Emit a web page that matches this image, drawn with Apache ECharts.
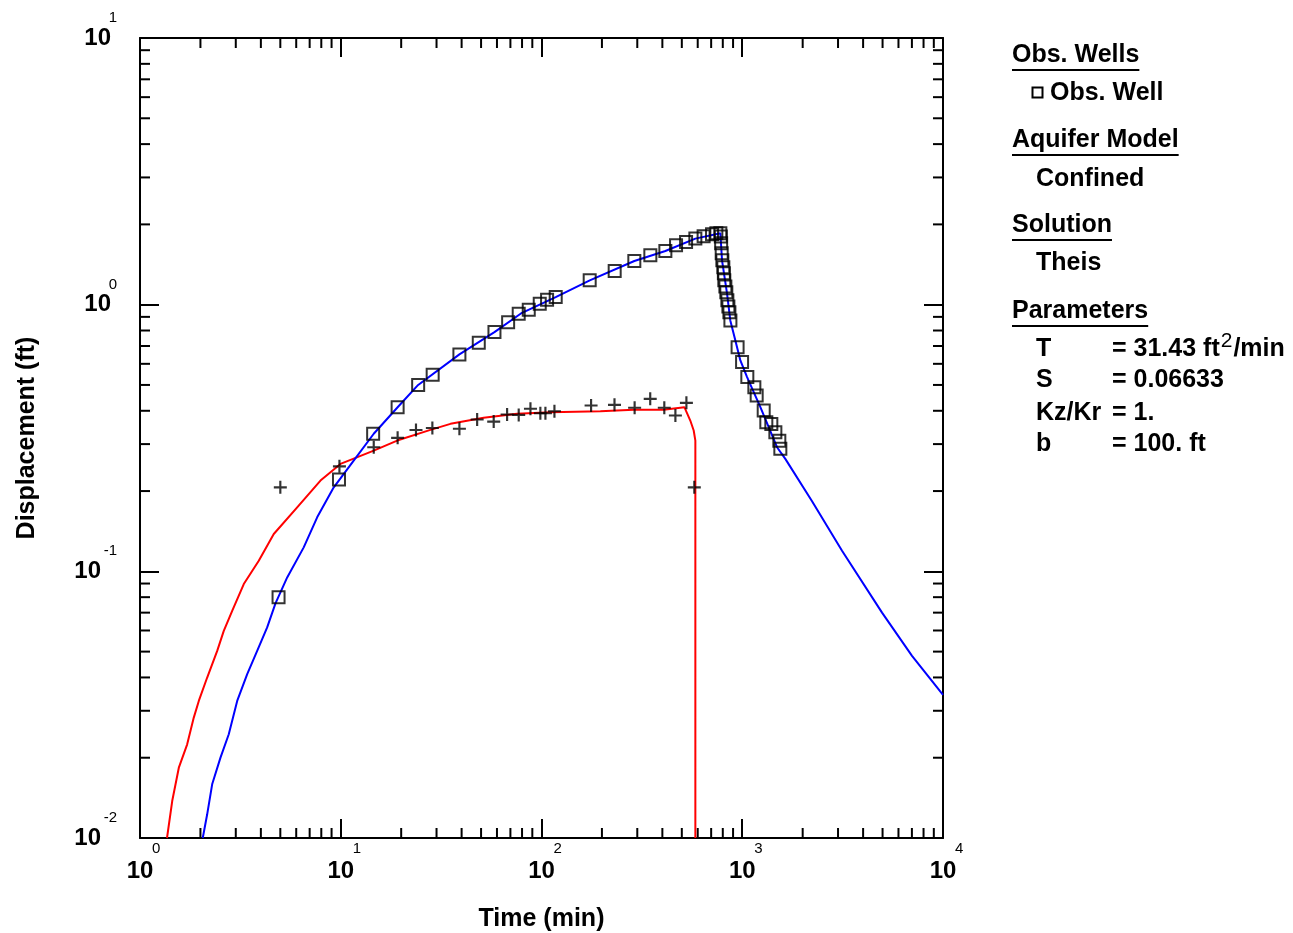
<!DOCTYPE html>
<html><head><meta charset="utf-8">
<script src="https://cdn.jsdelivr.net/npm/echarts@6/dist/echarts.min.js"></script>
<style>html,body{margin:0;padding:0;background:#fff}#c{width:1293px;height:933px}</style>
</head><body><div id="c"></div>
<script>
// ---- data ----
const obsTime = [4.9, 9.8, 14.5, 19.2, 24.3, 28.7, 39.0, 48.7, 58.3, 68.2, 77.0, 86.4, 98, 106.6, 117.7, 173.8, 231.5, 290, 348.5, 414, 468, 525, 584, 642, 707, 743, 778,
  782, 785, 790, 796, 805, 810, 814, 824, 833, 843, 853, 863, 873,
  948, 998, 1060, 1149, 1180, 1279, 1318, 1396, 1462, 1530, 1548];
const obsDisp = [0.080, 0.221, 0.328, 0.412, 0.500, 0.546, 0.651, 0.720, 0.789, 0.860, 0.925, 0.958, 1.009, 1.044, 1.068, 1.234, 1.337, 1.458, 1.531, 1.590, 1.670, 1.718, 1.769, 1.805, 1.836, 1.852, 1.852,
  1.80, 1.70, 1.56, 1.467, 1.381, 1.311, 1.234, 1.171, 1.112, 1.038, 0.985, 0.936, 0.873,
  0.693, 0.609, 0.535, 0.490, 0.456, 0.401, 0.362, 0.357, 0.332, 0.309, 0.288];

const derivTime = [5.0, 9.85, 14.6, 19.2, 23.7, 28.6, 39.0, 47.8, 57.8, 67.4, 77, 88.1, 98.7, 104.6, 116, 176.6, 231, 291, 348, 409, 464.5, 527, 577];
const derivDisp = [0.2065, 0.2476, 0.292, 0.3167, 0.3388, 0.3447, 0.3424, 0.371, 0.3645, 0.3874, 0.386, 0.407, 0.3916, 0.3916, 0.3985, 0.4187, 0.4212, 0.4105, 0.4436, 0.4105, 0.384, 0.4285, 0.2065];

const fitTime = [2.054, 2.161, 2.288, 2.517, 2.768, 3.049, 3.42, 3.834, 4.3, 4.73, 5.41, 6.54, 7.63, 9.23, 11.6, 14.6, 19.2, 24.3, 39, 58.3, 79, 117.7, 174, 290, 414, 584, 778,
  793, 840, 872, 924, 978.5, 1057, 1231, 1490, 1639, 2227, 3141, 4969, 7009, 10000];
const fitDisp = [0.0100, 0.01227, 0.0159, 0.02001, 0.0245, 0.03266, 0.04114, 0.0503, 0.0616, 0.0758, 0.0949, 0.123, 0.1594, 0.2065, 0.2603, 0.328, 0.4125, 0.500, 0.651, 0.789, 0.927, 1.068, 1.234, 1.458, 1.590, 1.769, 1.852,
  1.467, 1.10, 0.873, 0.7345, 0.6177, 0.535, 0.4126, 0.292, 0.264, 0.1832, 0.1194, 0.0700, 0.0482, 0.0344];

const fitDerivTime = [1.363, 1.447, 1.561, 1.718, 1.853, 1.963, 2.161, 2.424, 2.614, 2.879, 3.288, 3.905, 4.638, 6.066, 7.925, 9.97, 14.6, 19.1, 27.97, 35.2, 51.5, 75.6, 110.7, 196.5, 287.9, 406, 515, 551, 573, 584, 584];
const fitDerivDisp = [0.0100, 0.01376, 0.01835, 0.02246, 0.02828, 0.03266, 0.03997, 0.0503, 0.0598, 0.0711, 0.0896, 0.1096, 0.138, 0.1738, 0.2189, 0.2528, 0.2837, 0.3093, 0.3393, 0.3573, 0.3764, 0.3898, 0.3952, 0.3987, 0.4035, 0.4035, 0.4126, 0.3677, 0.3373, 0.3093, 0.0100];

const xRange = [1, 10000];
const yRange = [0.01, 10];
const xMinorTicks = [2, 3, 4, 5, 6, 7, 8, 9, 20, 30, 40, 50, 60, 70, 80, 90, 200, 300, 400, 500, 600, 700, 800, 900, 2000, 3000, 4000, 5000, 6000, 7000, 8000, 9000];
const yMinorTicks = [0.02, 0.03, 0.04, 0.05, 0.06, 0.07, 0.08, 0.09, 0.2, 0.3, 0.4, 0.5, 0.6, 0.7, 0.8, 0.9, 2, 3, 4, 5, 6, 7, 8, 9];

const legendHeadings = ['Obs. Wells', 'Aquifer Model', 'Solution', 'Parameters'];
const legendItems = ['Obs. Well', 'Confined', 'Theis'];
const paramNames = ['T', 'S', 'Kz/Kr', 'b'];
const paramValues = ['= 31.43 ft', '= 0.06633', '= 1.', '= 100. ft'];

// ---- chart ----
const FONT = '"Liberation Sans", Arial, sans-serif';
const zip = (a, b) => a.map((v, i) => [v, b[i]]);
const chart = echarts.init(document.getElementById('c'), null, {renderer: 'canvas'});

const expNum = v => Math.round(Math.log10(v));
const exp10 = v => String(expNum(v));
const axisCommon = {
  type: 'log', logBase: 10,
  axisLine: {show: true, lineStyle: {color: '#000', width: 2}},
  axisTick: {show: true, inside: true, length: 19, lineStyle: {color: '#000', width: 2}},
  splitLine: {show: false}, minorTick: {show: false}
};
const labelAxis = {
  type: 'log', logBase: 10,
  axisLine: {show: false}, axisTick: {show: false},
  splitLine: {show: false}, minorTick: {show: false}
};

function minorTickSeries(values, orient) {
  return {
    type: 'custom', coordinateSystem: 'cartesian2d', silent: true, z: 1,
    clip: false,
    data: values.map(v => orient === 'x' ? [v, yRange[0]] : [xRange[0], v]),
    renderItem(params, api) {
      const p = api.coord([api.value(0), api.value(1)]);
      const cs = params.coordSys;
      const st = {stroke: '#000', lineWidth: 2};
      const L = 10;
      if (orient === 'x') {
        const b = cs.y + cs.height, t = cs.y;
        return {type: 'group', children: [
          {type: 'line', shape: {x1: p[0], y1: b, x2: p[0], y2: b - L}, style: st},
          {type: 'line', shape: {x1: p[0], y1: t, x2: p[0], y2: t + L}, style: st}
        ]};
      } else {
        const l = cs.x, r = cs.x + cs.width;
        return {type: 'group', children: [
          {type: 'line', shape: {x1: l, y1: p[1], x2: l + L, y2: p[1]}, style: st},
          {type: 'line', shape: {x1: r, y1: p[1], x2: r - L, y2: p[1]}, style: st}
        ]};
      }
    }
  };
}

// legend panel graphics
const mctx = document.createElement('canvas').getContext('2d');
function textW(t, font) { mctx.font = font; return mctx.measureText(t).width; }
const LF = 'bold 25px ' + FONT;
const graphics = [];
function txt(t, x, y, font) {
  graphics.push({type: 'text', x: x, y: y, style: {text: t, font: font || LF, fill: '#000', verticalAlign: 'middle', align: 'left'}});
}
const headY = [55, 140, 225, 311];
legendHeadings.forEach((h, i) => {
  txt(h, 1012, headY[i]);
  const w = textW(h, LF);
  graphics.push({type: 'line', shape: {x1: 1012, y1: headY[i] + 15, x2: 1012 + w, y2: headY[i] + 15}, style: {stroke: '#000', lineWidth: 2}});
});
graphics.push({type: 'rect', shape: {x: 1032.5, y: 87.5, width: 10, height: 10}, style: {fill: 'none', stroke: '#000', lineWidth: 2}});
txt(legendItems[0], 1050, 93);
txt(legendItems[1], 1036, 179);
txt(legendItems[2], 1036, 263);
const paramY = [349, 380, 413, 444];
paramNames.forEach((n, i) => {
  txt(n, 1036, paramY[i]);
  txt(paramValues[i], 1112, paramY[i]);
});
// ft^2/min
const w0 = textW(paramValues[0], LF);
const SUPF = '21px ' + FONT;
txt('2', 1112 + w0 + 1, paramY[0] - 8, SUPF);
txt('/min', 1112 + w0 + 2 + textW('2', SUPF), paramY[0], LF);

const baseLabel = {fontSize: 24, fontWeight: 'bold', fontFamily: FONT, color: '#000', lineHeight: 24, showMinLabel: true, showMaxLabel: true, formatter: () => '10'};
const expLabel = {fontSize: 15, fontFamily: FONT, color: '#000', lineHeight: 15, showMinLabel: true, showMaxLabel: true, formatter: v => exp10(v)};
const richBase = {fontSize: 24, fontWeight: 'bold', fontFamily: FONT, color: '#000', lineHeight: 24};

const option = {
  animation: false,
  backgroundColor: '#fff',
  textStyle: {fontFamily: FONT},
  grid: {left: 140, right: 350, top: 38, bottom: 95, containLabel: false, outerBoundsMode: 'none'},
  xAxis: [
    Object.assign({}, axisCommon, {
      position: 'bottom', min: xRange[0], max: xRange[1],
      name: 'Time (min)', nameLocation: 'middle', nameGap: 69,
      nameTextStyle: {fontSize: 25, fontWeight: 'bold', color: '#000', fontFamily: FONT},
      axisLabel: Object.assign({}, baseLabel, {show: true, margin: 21})
    }),
    Object.assign({}, axisCommon, {
      position: 'top', min: xRange[0], max: xRange[1], axisLabel: {show: false}
    }),
    Object.assign({}, labelAxis, {
      position: 'bottom', min: xRange[0], max: xRange[1],
      axisLabel: Object.assign({}, expLabel, {show: true, margin: 3, align: 'left', padding: [0, 0, 0, 12]})
    })
  ],
  yAxis: [
    Object.assign({}, axisCommon, {
      position: 'left', min: yRange[0], max: yRange[1],
      name: 'Displacement (ft)', nameLocation: 'middle', nameGap: 100, nameRotate: 90,
      nameTextStyle: {fontSize: 25, fontWeight: 'bold', color: '#000', fontFamily: FONT},
      axisLabel: Object.assign({}, baseLabel, {
        show: true, margin: 29,
        formatter: v => expNum(v) < 0 ? '{n|10}' : '{p|10}',
        rich: {
          p: Object.assign({}, richBase),
          n: Object.assign({}, richBase, {padding: [0, 10, 0, 0]})
        }
      })
    }),
    Object.assign({}, axisCommon, {
      position: 'right', min: yRange[0], max: yRange[1], axisLabel: {show: false}
    }),
    Object.assign({}, labelAxis, {
      position: 'left', min: yRange[0], max: yRange[1],
      axisLabel: Object.assign({}, expLabel, {show: true, margin: 23, lineHeight: 40, verticalAlign: 'bottom'})
    })
  ],
  graphic: graphics,
  series: [
    minorTickSeries(xMinorTicks, 'x'),
    minorTickSeries(yMinorTicks, 'y'),
    {type: 'line', name: 'Theis derivative', data: zip(fitDerivTime, fitDerivDisp), showSymbol: false, symbol: 'none', clip: true,
      lineStyle: {color: '#ff0000', width: 2}, z: 2},
    {type: 'line', name: 'Theis', data: zip(fitTime, fitDisp), showSymbol: false, symbol: 'none', clip: true,
      lineStyle: {color: '#0000ff', width: 2}, z: 2},
    {type: 'scatter', name: 'Obs. Well', data: zip(obsTime, obsDisp), symbol: 'rect', symbolSize: 12,
      itemStyle: {color: 'rgba(0,0,0,0)', borderColor: '#000', borderWidth: 2}, z: 3},
    {type: 'scatter', name: 'Derivative', data: zip(derivTime, derivDisp), symbol: 'path://M5,0H7V5H12V7H7V12H5V7H0V5H5Z', symbolSize: 13,
      itemStyle: {color: '#000'}, z: 3}
  ]
};
chart.setOption(option);
</script>
</body></html>
